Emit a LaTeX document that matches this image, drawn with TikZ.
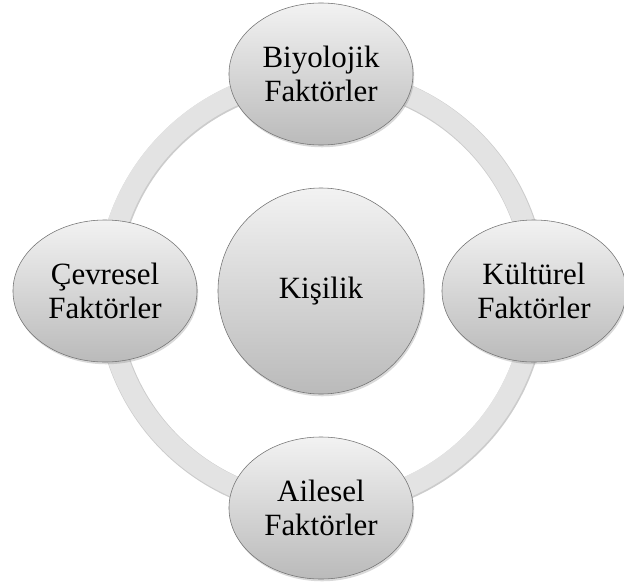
\documentclass[tikz,border=0pt]{standalone}
\usepackage{fontspec}
\setmainfont{Liberation Serif}
\usetikzlibrary{shapes.geometric,shadows}
\tikzset{factor/.style={shape=ellipse,draw=black!55,top color=black!5,bottom color=black!27,
		minimum width=4.6cm,minimum height=3.55cm,inner sep=0pt,align=center,
		font=\fontsize{22}{24}\selectfont,
		drop shadow={opacity=0.3,shadow xshift=0.8pt,shadow yshift=-1.6pt}},
	core/.style={factor,shape=circle,minimum size=5.15cm},
	ring/.style={line width=0.52cm,draw=black!11},
	ringshade/.style={line width=0.56cm,draw=black!20}}

\begin{document}
\begin{tikzpicture}[x=0.025cm,y=-0.025cm]
	\useasboundingbox (0,0) rectangle (624,585);
	\coordinate (mid) at (321,291);
	% ring behind the nodes
	\draw[ringshade] ([shift={(0.6,0.8)}]mid) circle (5.35cm);
	\draw[ring] (mid) circle (5.35cm);
	
	\node[core] (kisilik) at (mid) {Kişilik};
	\node[factor] (biyolojik) at (321,74) {Biyolojik\\Faktörler};
	\node[factor] (cevresel) at (105,291) {Çevresel\\Faktörler};
	\node[factor] (kulturel) at (534,291) {Kültürel\\Faktörler};
	\node[factor] (ailesel) at (321,508) {Ailesel\\Faktörler};
\end{tikzpicture}
\end{document}
